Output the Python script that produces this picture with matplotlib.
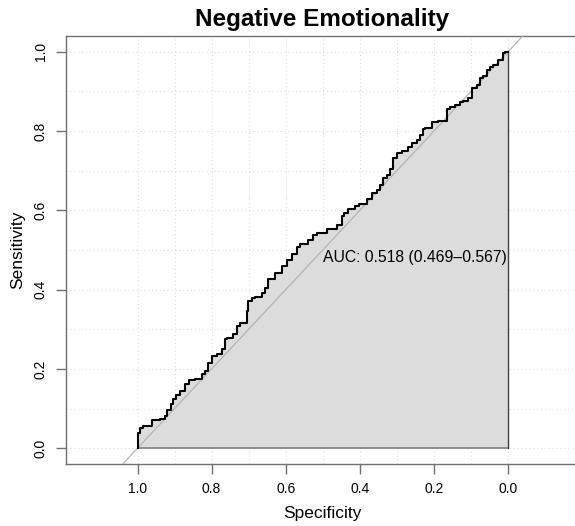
import matplotlib.pyplot as plt
import numpy as np

plt.rcParams['font.family'] = ['Liberation Sans', 'DejaVu Sans']

# ROC points (specificity, sensitivity)
specificity = [1.000, 0.993, 0.986, 0.962, 0.939, 0.926, 0.921, 0.910, 0.905, 0.896,
               0.885, 0.872, 0.860, 0.845, 0.827, 0.818, 0.809, 0.800, 0.786, 0.773,
               0.764, 0.759, 0.741, 0.732, 0.723, 0.705, 0.701, 0.692, 0.683, 0.665,
               0.656, 0.647, 0.629, 0.611, 0.597, 0.584, 0.570, 0.561, 0.557, 0.539,
               0.526, 0.516, 0.489, 0.462, 0.447, 0.442, 0.431, 0.413, 0.402, 0.381,
               0.368, 0.354, 0.345, 0.337, 0.327, 0.318, 0.310, 0.300, 0.287, 0.269,
               0.260, 0.246, 0.238, 0.229, 0.224, 0.206, 0.188, 0.165, 0.157, 0.143,
               0.130, 0.121, 0.107, 0.098, 0.084, 0.076, 0.067, 0.057, 0.049, 0.040,
               0.026, 0.013, 0.008, 0.000]
sensitivity = [0.000, 0.037, 0.052, 0.056, 0.071, 0.073, 0.081, 0.096, 0.111, 0.123,
               0.134, 0.144, 0.161, 0.171, 0.174, 0.186, 0.195, 0.216, 0.232, 0.237,
               0.249, 0.275, 0.279, 0.287, 0.308, 0.317, 0.346, 0.371, 0.378, 0.381,
               0.392, 0.405, 0.426, 0.443, 0.459, 0.476, 0.489, 0.508, 0.514, 0.516,
               0.526, 0.537, 0.542, 0.552, 0.564, 0.585, 0.594, 0.604, 0.610, 0.615,
               0.629, 0.644, 0.652, 0.665, 0.682, 0.690, 0.705, 0.732, 0.745, 0.749,
               0.761, 0.770, 0.778, 0.791, 0.806, 0.808, 0.824, 0.826, 0.856, 0.860,
               0.866, 0.873, 0.875, 0.883, 0.910, 0.917, 0.934, 0.938, 0.955, 0.963,
               0.967, 0.980, 0.997, 1.000]

auc_text = "AUC: 0.518 (0.469\u20130.567)"
tick_vals = [1.0, 0.8, 0.6, 0.4, 0.2, 0.0]
tick_labels = ["1.0", "0.8", "0.6", "0.4", "0.2", "0.0"]
grid_vals = np.round(np.arange(0, 1.01, 0.1), 1)

fig = plt.figure(figsize=(5.75, 5.26), dpi=100)
# right edge of the box sits past the image edge, as in the reference
ax = fig.add_axes([66 / 575, 62 / 526, 524 / 575, 428 / 526])

axis_col = '#707070'

for v in grid_vals:
    ax.axvline(v, color='#DDDDDD', linestyle=(0, (1, 2.5)), lw=0.8, zorder=0)
    ax.axhline(v, color='#DDDDDD', linestyle=(0, (1, 2.5)), lw=0.8, zorder=0)

ax.fill_between(specificity, sensitivity, 0, step='pre', color='#DCDCDC', lw=0, zorder=1)
ax.plot([1, 0], [0, 0], color='#808080', lw=1.2, zorder=2)
ax.plot([0, 0], [0, 1], color='#404040', lw=1.0, zorder=2)
ax.axline((1, 0), (0, 1), color='#B4B4B4', lw=0.9, zorder=3)
ax.plot(specificity, sensitivity, drawstyle='steps-pre', color='black', lw=1.5, zorder=4)

ax.text(0.5, 0.48, auc_text, fontsize=11.3, ha='left', va='center', zorder=5)

ax.set_xlim(1.193, 1.193 - 524 / 370.5)
ax.set_ylim(-0.04, 1.04)
ax.set_xticks(tick_vals)
ax.set_xticklabels(tick_labels)
ax.set_yticks(tick_vals)
ax.set_yticklabels(tick_labels, rotation=90, va='center')
ax.tick_params(direction='out', length=7, width=1, color=axis_col, labelsize=10, pad=6)

for s in ax.spines.values():
    s.set_color(axis_col)
    s.set_linewidth(1)

ax.set_title("Negative Emotionality", fontsize=17.5, fontweight='bold', pad=7,
             x=(322 - 66) / 524)
ax.set_xlabel("Specificity", fontsize=12.5, labelpad=5)
ax.xaxis.set_label_coords((322 - 66) / 524, -0.098)
ax.set_ylabel("Sensitivity", fontsize=12.5, labelpad=6)

fig.savefig('out.png', dpi=100)
